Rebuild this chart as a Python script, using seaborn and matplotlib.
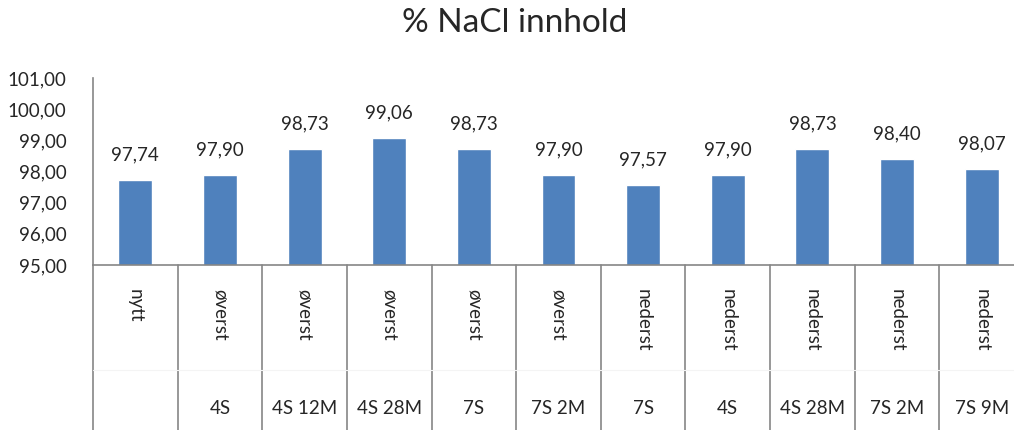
import matplotlib
matplotlib.use("Agg")
import matplotlib.pyplot as plt
import matplotlib.transforms as mtransforms
from matplotlib.ticker import FuncFormatter
import pandas as pd
import seaborn as sns

# data
level1 = ["nytt", "øverst", "øverst", "øverst", "øverst", "øverst",
          "nederst", "nederst", "nederst", "nederst", "nederst"]
level2 = ["", "4S", "4S 12M", "4S 28M", "7S", "7S 2M",
          "7S", "4S", "4S 28M", "7S 2M", "7S 9M"]
nacl = [97.74, 97.90, 98.73, 99.06, 98.73, 97.90,
        97.57, 97.90, 98.73, 98.40, 98.07]

df = pd.DataFrame({"kat": [f"{a} {b}".strip() for a, b in zip(level1, level2)],
                   "nacl": nacl})

sns.set_style("white")
plt.rcParams["font.family"] = ["Lato", "DejaVu Sans"]

fig = plt.figure(figsize=(10.14, 4.3), dpi=100)
ax = fig.add_axes([93 / 1014, 1 - 265 / 430, (1024 - 93) / 1014, (265 - 78) / 430])

sns.barplot(data=df, x="kat", y="nacl", color="#4F81BD", saturation=1,
            width=0.40, ax=ax)

ax.set_ylim(95, 101)
ax.set_yticks(range(95, 102))
ax.yaxis.set_major_formatter(FuncFormatter(lambda v, p: f"{v:.2f}".replace(".", ",")))
ax.tick_params(axis="y", length=0, pad=19, labelsize=13.5)
ax.set_xticks([])
ax.set_xlabel("")
ax.set_ylabel("")
ax.set_xlim(-0.5, len(nacl) - 0.5)

for s in ["top", "right"]:
    ax.spines[s].set_visible(False)
for s in ["left", "bottom"]:
    ax.spines[s].set_color("#868686")
    ax.spines[s].set_linewidth(1.2)

# value labels
for i, v in enumerate(nacl):
    ax.annotate(f"{v:.2f}".replace(".", ","), (i, v), xytext=(0, 12),
                textcoords="offset points", ha="center", va="bottom", fontsize=13.5)

# multi-level category axis
trans = mtransforms.blended_transform_factory(ax.transData, ax.transAxes)
for i in range(len(nacl) + 1):
    ax.plot([i - 0.5, i - 0.5], [0, -0.95], color="#868686", lw=1.2,
            transform=trans, clip_on=False)
ax.plot([-0.5, len(nacl) - 0.5], [-0.56, -0.56], color="#f4f4f4", lw=0.8,
        transform=trans, clip_on=False)
for i, (a, b) in enumerate(zip(level1, level2)):
    ax.text(i, -0.13, a, rotation=270, ha="center", va="top", fontsize=13.5,
            transform=trans)
    ax.text(i, -0.765, b, ha="center", va="center", fontsize=13.5, transform=trans)

fig.suptitle("% NaCl innhold", x=0.508, y=0.947, va="center", fontsize=24)

fig.savefig("out.png", dpi=100)
